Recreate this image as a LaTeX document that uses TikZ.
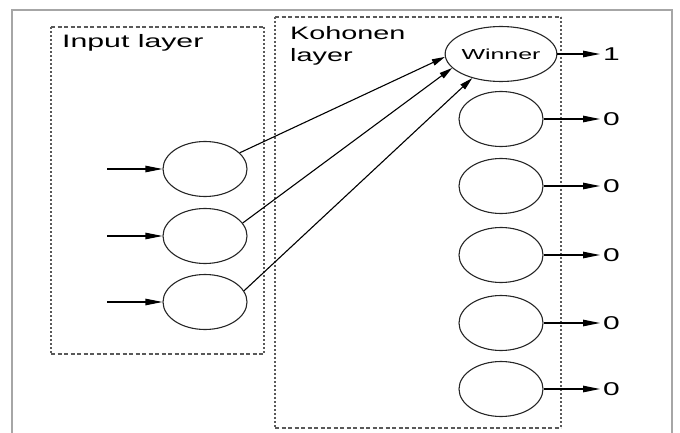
\documentclass[tikz,border=0pt]{standalone}
\usepackage{fontspec}
\usepackage{graphicx}
\setmainfont{Liberation Sans}
\usetikzlibrary{shapes.geometric,arrows.meta}
\newcommand\hstretch[2][1.62]{\scalebox{#1}[1]{#2}}
\begin{document}
\begin{tikzpicture}[x=1pt,y=-1pt,
  neuron/.style={draw=black!85,line width=1.1pt,ellipse,minimum width=84pt,minimum height=55pt,inner sep=0pt},
  conn/.style={line width=1.1pt,-{Triangle[length=17pt,width=6.5pt]}},
  diag/.style={line width=1.1pt,-{Triangle[length=13pt,width=6.5pt]}},
  lbl/.style={inner sep=0pt,font=\fontsize{18.5}{20}\selectfont},
  title/.style={inner sep=0pt,anchor=base west,align=left,font=\fontsize{18}{22}\selectfont},
  hdash/.style={draw=black!65,line width=1.3pt,dash pattern=on 4pt off 2.5pt},
  vdash/.style={draw=black!65,line width=1.3pt,dash pattern=on 2pt off 2pt},
  frameline/.style={draw=black!35,line width=1.5pt}]
\useasboundingbox (0,0) rectangle (680,433);
% outer frame
\draw[frameline] (12,433) -- (12,10) -- (672,10) -- (672,433);
% input layer box
\draw[hdash] (51,27) -- (264,27);
\draw[hdash] (51,354) -- (264,354);
\draw[vdash] (51,27) -- (51,354);
\draw[vdash] (264,27) -- (264,354);
% kohonen layer box
\draw[hdash] (275,17) -- (561,17);
\draw[hdash] (275,428) -- (561,428);
\draw[vdash] (275,17) -- (275,428);
\draw[vdash] (561,17) -- (561,428);
% titles
\node[title] (tin) at (62,48) {\hstretch[1.68]{Input layer}};
\node[title] (tk) at (290,62) {\hstretch[1.6]{Kohonen}\\\hstretch[1.6]{layer}};
% input neurons
\node[neuron] (i1) at (205,169) {};
\node[neuron] (i2) at (205,236) {};
\node[neuron] (i3) at (205,302) {};
% kohonen neurons
\node[neuron] (w) at (501,54) {\fontsize{14.5}{16}\selectfont\hstretch[1.72]{Winner}};
\node[neuron] (k2) at (501,119) {};
\node[neuron] (k3) at (501,186) {};
\node[neuron] (k4) at (501,255) {};
\node[neuron] (k5) at (501,323) {};
\node[neuron] (k6) at (501,389) {};
% output labels
\node[lbl,anchor=west] (o1) at (603,54) {\hstretch{1}};
\node[lbl,anchor=west] (o2) at (603,119) {\hstretch{0}};
\node[lbl,anchor=west] (o3) at (603,186) {\hstretch{0}};
\node[lbl,anchor=west] (o4) at (603,255) {\hstretch{0}};
\node[lbl,anchor=west] (o5) at (603,323) {\hstretch{0}};
\node[lbl,anchor=west] (o6) at (603,389) {\hstretch{0}};
% input arrows
\coordinate (a1) at (107,169);
\coordinate (a2) at (107,236);
\coordinate (a3) at (107,302);
\draw[conn] (a1) -- (i1.west);
\draw[conn] (a2) -- (i2.west);
\draw[conn] (a3) -- (i3.west);
% connections to winner
\draw[diag] (i1.25) -- (w.183);
\draw[diag] (i2.19) -- (w.196);
\draw[diag] (i3.16) -- (w.220);
% outputs
\draw[conn,shorten >=3pt] (w.east) -- (w.east -| o1.west);
\draw[conn,shorten >=3pt] (k2.east) -- (k2.east -| o2.west);
\draw[conn,shorten >=3pt] (k3.east) -- (k3.east -| o3.west);
\draw[conn,shorten >=3pt] (k4.east) -- (k4.east -| o4.west);
\draw[conn,shorten >=3pt] (k5.east) -- (k5.east -| o5.west);
\draw[conn,shorten >=3pt] (k6.east) -- (k6.east -| o6.west);
\end{tikzpicture}
\end{document}
